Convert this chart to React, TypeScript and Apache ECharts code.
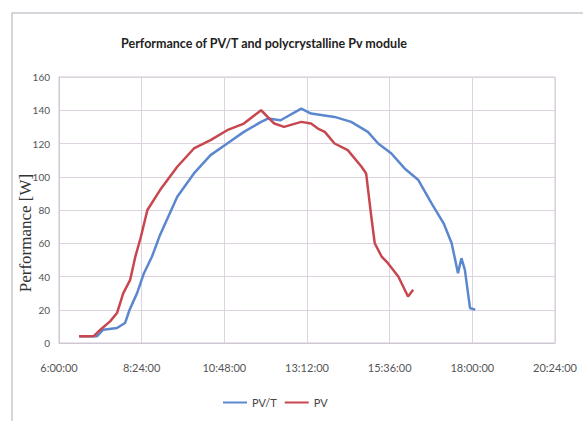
import React, { useEffect, useRef } from "react";
import * as echarts from "echarts";

const xTickStartHour = 6;
const xTickStepHours = 2.4;
const yTicks = [0, 20, 40, 60, 80, 100, 120, 140, 160];

const pvtTimes = ["6:35","7:06","7:17","7:41","7:55","8:03","8:16","8:28","8:42","8:56","9:26","9:55","10:24","10:53","11:22","11:52","12:04","12:26","13:02","13:19","14:00","14:29","14:58","15:16","15:39","16:02","16:26","16:49","17:10","17:24","17:35","17:41","17:47","17:56","18:05"];
const pvtPower = [4,4,8,9,12,20,30,42,52,65,88,102,113,120,127,133,135,134,141,138,136,133,127,120,114,105,98,84,72,60,42,51,44,21,20];

const pvTimes = ["6:35","7:00","7:12","7:29","7:41","7:52","8:04","8:13","8:22","8:34","8:56","9:26","9:55","10:24","10:53","11:22","11:52","12:15","12:32","13:02","13:19","13:31","13:43","14:00","14:23","14:47","14:55","15:04","15:10","15:22","15:33","15:51","16:08","16:17"];
const pvPower = [4,4,8,13,18,30,38,52,63,80,92,106,117,122,128,132,140,132,130,133,132,129,127,120,116,106,102,76,60,52,48,40,28,32];

const seriesNames = ["PV/T", "PV"];
const seriesColors = ["#5b87cf", "#c8474f"];

function toOffsetHours(t: string): number {
  const [h, m] = t.split(":").map(Number);
  return h + m / 60 - xTickStartHour;
}

function fmt(v: number): string {
  const total = Math.round((v + xTickStartHour) * 60);
  const h = Math.floor(total / 60);
  const m = total % 60;
  return `${h}:${m.toString().padStart(2, "0")}:00`;
}

export default function App() {
  const ref = useRef<HTMLDivElement>(null);
  useEffect(() => {
    const chart = echarts.init(ref.current!, undefined, { renderer: "svg" });
    const gridColor = "#dcd3de";
    chart.setOption({
      animation: false,
      backgroundColor: "#ffffff",
      title: {
        text: "Performance of PV/T and polycrystalline Pv module",
        left: 259,
        textAlign: "center",
        top: 32,
        textStyle: { fontFamily: "Lato", fontSize: 12.5, fontWeight: "bold", color: "#222" },
      },
      legend: {
        bottom: 8,
        left: 218,
        itemWidth: 24,
        itemHeight: 2,
        itemGap: 8,
        icon: "rect",
        textStyle: { fontFamily: "Lato", fontSize: 11, color: "#444" },
        data: seriesNames,
      },
      grid: { left: 59, right: 28, top: 77, bottom: 78, show: true, borderColor: "#cfc8d2", borderWidth: 1 },
      xAxis: {
        type: "value",
        min: 0,
        max: xTickStepHours * 6,
        interval: xTickStepHours,
        axisLine: { show: true, lineStyle: { color: "#cfc8d2" } },
        axisTick: { show: false },
        splitLine: { show: true, lineStyle: { color: gridColor } },
        axisLabel: { formatter: (v: number) => fmt(v), margin: 19, fontFamily: "Lato", fontSize: 11, color: "#555" },
      },
      yAxis: {
        type: "value",
        min: yTicks[0],
        max: yTicks[yTicks.length - 1],
        interval: 20,
        axisLine: { show: true, lineStyle: { color: "#cfc8d2" } },
        axisTick: { show: false },
        splitLine: { show: true, lineStyle: { color: gridColor } },
        axisLabel: { margin: 9, fontFamily: "Lato", fontSize: 10, color: "#555" },
      },
      graphic: [
        {
          type: "rect",
          shape: { x: 12, y: 13, width: 620, height: 460 },
          style: { fill: "none", stroke: "#cdc6cf", lineWidth: 1.5 },
          silent: true,
        },
        {
          type: "text",
          x: 25,
          y: 233,
          rotation: Math.PI / 2,
          style: {
            text: "Performance [W]",
            fontFamily: "Liberation Serif",
            fontSize: 17,
            fill: "#333",
            textAlign: "center",
            textVerticalAlign: "middle",
          },
        },
      ],
      series: [
        {
          name: seriesNames[0],
          type: "line",
          showSymbol: false,
          symbol: "none",
          data: pvtTimes.map((t, i) => [toOffsetHours(t), pvtPower[i]]),
          lineStyle: { color: seriesColors[0], width: 2.5 },
          itemStyle: { color: seriesColors[0] },
        },
        {
          name: seriesNames[1],
          type: "line",
          showSymbol: false,
          symbol: "none",
          data: pvTimes.map((t, i) => [toOffsetHours(t), pvPower[i]]),
          lineStyle: { color: seriesColors[1], width: 2.5 },
          itemStyle: { color: seriesColors[1] },
        },
      ],
    });
    return () => chart.dispose();
  }, []);
  return <div ref={ref} style={{ width: 583, height: 421, position: "absolute", left: 0, top: 0 }} />;
}
